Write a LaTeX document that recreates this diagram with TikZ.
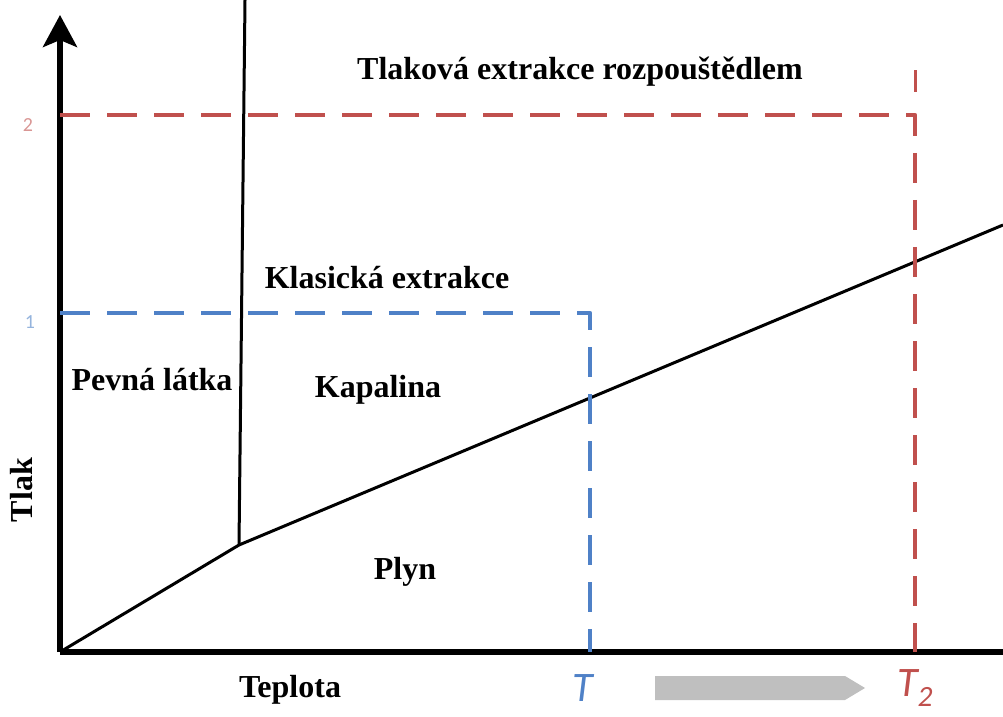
\documentclass[tikz,border=0pt]{standalone}
\usepackage{fontspec}
\setmainfont{Liberation Serif}
\newfontfamily\calfont{Carlito}
\usetikzlibrary{arrows.meta}

\definecolor{extred}{RGB}{192,80,77}
\definecolor{extblue}{RGB}{79,129,199}

\tikzset{
  phase/.style={font=\bfseries\fontsize{32}{34}\selectfont},
  boundary/.style={line width=3pt},
  limit/.style={line width=4.5pt, dash pattern=on 30pt off 17pt, line join=round},
}

\begin{document}
\begin{tikzpicture}[x=1pt,y=1pt]
  \useasboundingbox (0,0) rectangle (1003,716);

  \coordinate (O)  at (60,64);   % origin
  \coordinate (TP) at (239,171); % triple point
  \coordinate (SL) at (245,716); % top of melting line
  \coordinate (VE) at (1003,491);% end of vapour line
  \coordinate (YT) at (60,701);
  \coordinate (XE) at (1003,64);

  % axes
  \draw[line width=5.5pt, -{Stealth[length=32pt,width=34pt,inset=7pt]}] (O) -- (YT);
  \draw[line width=5.5pt] (O) -- (XE);

  % phase boundaries
  \draw[boundary] (O) -- (TP) -- (VE);
  \draw[boundary] (TP) -- (SL);

  % solvent extraction limit
  \coordinate (R1) at (60,601);
  \coordinate (R2) at (915,601);
  \coordinate (R3) at (915,64);
  \coordinate (R4) at (915,624);
  \coordinate (R5) at (915,646);
  \draw[limit, extred] (R1) -- (R2) -- (R3);
  \draw[line width=3pt, extred] (R4) -- (R5);

  % classic extraction limit
  \coordinate (B1) at (60,403);
  \coordinate (B2) at (590,403);
  \coordinate (B3) at (590,64);
  \draw[limit, extblue] (B1) -- (B2) -- (B3);

  % Labels
  \node[phase] (tlakova) at (580,644) {Tlaková extrakce rozpouštědlem};
  \node[phase] (klasicka) at (387,438) {Klasická extrakce};
  \node[phase] (pevna) at (152,336) {Pevná látka};
  \node[phase] (kapalina) at (378,326) {Kapalina};
  \node[phase] (plyn) at (405,144) {Plyn};
  \node[phase, rotate=90] (tlak) at (22,226) {Tlak};
  \node[phase] (teplota) at (290,26) {Teplota};

  % temperatures
  \node[text=extblue, font=\calfont\itshape\fontsize{42}{42}\selectfont] (t1) at (583,28) {T};
  \node[text=extred, font=\calfont\itshape\fontsize{42}{42}\selectfont] (t2) at (915,28) {T\textsubscript{2}};
  \fill[gray!50] (655,16) -- (845,16) -- (865,28) -- (845,40) -- (655,40) -- cycle;

  % pressures
  \node[text=extred!60, font=\calfont\fontsize{20}{20}\selectfont] (p2) at (28,591) {2};
  \node[text=extblue!60, font=\calfont\fontsize{20}{20}\selectfont] (p1) at (30,394) {1};
\end{tikzpicture}
\end{document}
